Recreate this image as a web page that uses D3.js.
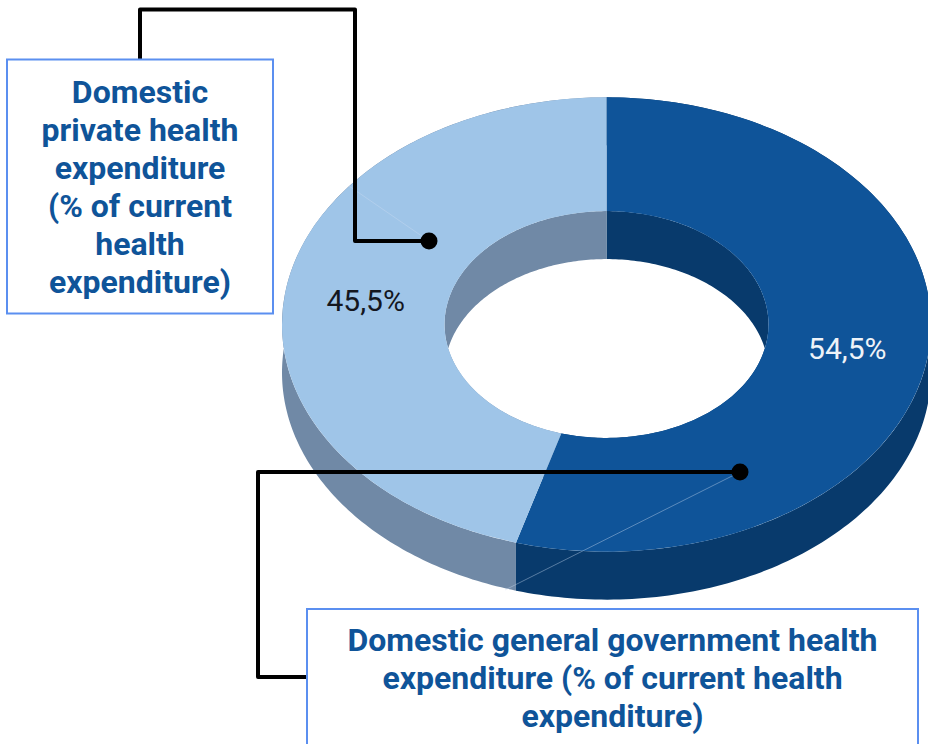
<!DOCTYPE html>
<html>
<head>
<meta charset="utf-8">
<script src="https://cdn.jsdelivr.net/npm/d3@7"></script>
<style>
  html, body { margin: 0; padding: 0; background: #fff; overflow: hidden; }
  svg { display: block; }
</style>
</head>
<body>
<script>
// Health expenditure shares, clockwise from twelve o'clock
const categories = ["Domestic general government", "Domestic private"];
const shares = [54.5, 45.5];
const shareLabels = ["54,5%", "45,5%"];
const topColors = ["#0f5499", "#9fc5e8"];
const wallColors = ["#083a6c", "#7089a6"];
const labelColors = ["#eef3f8", "#14171f"];

const privateTitle = ["Domestic", "private health", "expenditure", "(% of current", "health", "expenditure)"];
const governmentTitle = ["Domestic general government health", "expenditure (% of current health", "expenditure)"];

const width = 928, height = 744;
const cx = 606.5, cy = 324.5;
const outerR = 324.5, innerR = 162;
const squash = 0.7;
const depth = 48;

const svg = d3.select("body").append("svg").attr("width", width).attr("height", height);

const pie = d3.pie().sort(null).value(d => d);
const slices = pie(shares);
const arc = d3.arc().innerRadius(innerR).outerRadius(outerR);

// Vertical wall of a slice along the rim of the given radius
function wall(slice, radius) {
  const steps = d3.range(0, 181).map(k => slice.startAngle + (slice.endAngle - slice.startAngle) * k / 180);
  return d3.area()
    .x(t => cx + radius * Math.sin(t))
    .y0(t => cy - radius * squash * Math.cos(t))
    .y1(t => cy - radius * squash * Math.cos(t) + depth)(steps);
}

const body = svg.append("g");
[outerR, innerR].forEach(radius => {
  body.append("g")
    .selectAll("path")
    .data(slices)
    .join("path")
    .attr("d", d => wall(d, radius))
    .attr("fill", (d, i) => wallColors[i]);
});

body.append("g")
  .attr("transform", `translate(${cx},${cy}) scale(1,${squash})`)
  .selectAll("path")
  .data(slices)
  .join("path")
  .attr("d", arc)
  .attr("fill", (d, i) => topColors[i]);

// Faint native leader lines left under the callouts
const faint = svg.append("g").attr("stroke", "#c9dcf0").attr("stroke-width", 0.6).attr("fill", "none").attr("opacity", 0.7);
faint.append("line").attr("x1", 349).attr("y1", 186).attr("x2", 429).attr("y2", 241);
faint.append("line").attr("x1", 505).attr("y1", 590).attr("x2", 740).attr("y2", 472);

// Value labels at the ring's mid radius
svg.append("g")
  .selectAll("text")
  .data(slices)
  .join("text")
  .attr("x", d => cx + arc.centroid(d)[0])
  .attr("y", d => cy + arc.centroid(d)[1] * squash)
  .attr("dy", "0.36em")
  .attr("text-anchor", "middle")
  .attr("font-family", "Roboto, sans-serif")
  .attr("font-size", 30)
  .attr("fill", (d, i) => labelColors[i])
  .text((d, i) => shareLabels[i]);

// Callout connectors
const connector = d3.line();
const privateLink = [[140, 60], [140, 9.5], [355, 9.5], [355, 241], [429, 241]];
const governmentLink = [[740, 472], [258, 472], [258, 677], [307, 677]];
svg.append("g")
  .selectAll("path")
  .data([privateLink, governmentLink])
  .join("path")
  .attr("d", connector)
  .attr("fill", "none")
  .attr("stroke", "#000")
  .attr("stroke-width", 4)
  .attr("stroke-linejoin", "round");

svg.append("g")
  .selectAll("circle")
  .data([privateLink[privateLink.length - 1], governmentLink[0]])
  .join("circle")
  .attr("cx", d => d[0])
  .attr("cy", d => d[1])
  .attr("r", 8.5)
  .attr("fill", "#000");

// Callout boxes
function callout(x, y, w, h, lines, firstBaseline) {
  svg.append("rect")
    .attr("x", x).attr("y", y).attr("width", w).attr("height", h)
    .attr("fill", "#fff").attr("stroke", "#5b8ff0").attr("stroke-width", 2);
  svg.append("g")
    .selectAll("text")
    .data(lines)
    .join("text")
    .attr("x", x + w / 2)
    .attr("y", (d, i) => firstBaseline + i * 38)
    .attr("text-anchor", "middle")
    .attr("font-family", "Roboto, sans-serif")
    .attr("font-weight", 700)
    .attr("font-size", 32)
    .attr("fill", "#0f5499")
    .text(d => d);
}
callout(7, 59.5, 266, 254, privateTitle, 103);
callout(307, 609, 611, 160, governmentTitle, 651);
</script>
</body>
</html>
